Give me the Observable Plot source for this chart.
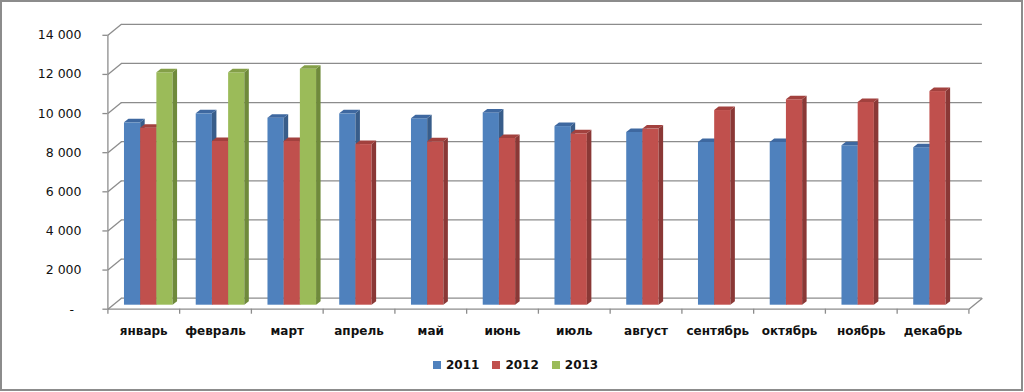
<!DOCTYPE html>
<html>
<head>
<meta charset="utf-8">
<script src="https://cdn.jsdelivr.net/npm/d3@7"></script>
<script src="https://cdn.jsdelivr.net/npm/@observablehq/plot@0.6"></script>
<style>
  body { margin: 0; background: #fff; }
  #wrap { position: relative; width: 1024px; height: 392px; overflow: hidden; font-family: "DejaVu Sans", sans-serif; background: #fff; }
  #chart { position: absolute; left: 0; top: 0; }
  #frame { position: absolute; left: 0; top: 0; width: 1023px; height: 391px; box-sizing: border-box; border: 2px solid #8c8c8c; pointer-events: none; }
  #legend { position: absolute; left: 433px; top: 358px; display: flex; align-items: center; font-weight: bold; font-size: 12px; color: #111; }
  #legend .item { display: flex; align-items: center; margin-right: 13px; }
  #legend .sw { width: 8px; height: 8px; margin-right: 5px; }
</style>
</head>
<body>
<div id="wrap">
  <div id="chart"></div>
  <div id="legend"></div>
  <div id="frame"></div>
</div>
<script>
// ---- data ----
const months = ["январь", "февраль", "март", "апрель", "май", "июнь", "июль", "август", "сентябрь", "октябрь", "ноябрь", "декабрь"];
const years = ["2011", "2012", "2013"];
const sales2011 = [9320, 9780, 9560, 9780, 9530, 9830, 9130, 8830, 8320, 8320, 8150, 8050];
const sales2012 = [9050, 8370, 8370, 8210, 8350, 8520, 8760, 9000, 9950, 10500, 10360, 10920];
const sales2013 = [11880, 11880, 12060];
const yTicks = [0, 2000, 4000, 6000, 8000, 10000, 12000, 14000];

// ---- styles ----
const frontColors = ["#4F81BD", "#C0504D", "#9BBB59"];
const sideColors = ["#385D8A", "#8A3836", "#6F8A3B"];
const topColors = ["#3E68A0", "#A2413E", "#849F48"];
const gridColor = "#8c8c8c";

// ---- layout (pixels) ----
const W = 1024, H = 345;
const mL = 112.4, mR = 50.6, mT = 30.8, mB = 40.3;
const uX = 12 / (W - mL - mR);        // x units per pixel
const uY = 14000 / (H - mT - mB);     // y units per pixel
const BW = 16.2 * uX;                 // bar width in x units
const OUT = (1 - 3 * BW) / 2;         // outer padding within a month
const D = 4.5 * uX, E = 3.5 * uY;     // bar depth offsets
const fdx = -5, fdy = 4;              // front plane offset (px)
const bdx = 8.5, bdy = -7;            // back wall offset (px)

const series = [sales2011, sales2012, sales2013];
const bars = [];
series.forEach((vals, j) => vals.forEach((v, i) => bars.push({ i, j, year: years[j], month: months[i], value: v })));
const bx = d => d.i + OUT + d.j * BW;

const fmt = d3.formatLocale({ decimal: ",", thousands: " ", grouping: [3], currency: ["", ""] }).format(",");

const marks = [];
// back wall gridlines
marks.push(Plot.ruleY(yTicks, { y: d => d, x1: 0, x2: 12, dx: bdx, dy: bdy, stroke: gridColor, strokeWidth: 1.3 }));
// side wall diagonals
marks.push(Plot.link(yTicks, {
  x1: () => fdx * uX, y1: d => d - fdy * uY,
  x2: () => bdx * uX, y2: d => d - bdy * uY,
  stroke: gridColor, strokeWidth: 1.3
}));
// floor right diagonal
marks.push(Plot.link([0], {
  x1: () => 12 + fdx * uX, y1: d => d - fdy * uY,
  x2: () => 12 + bdx * uX, y2: d => d - bdy * uY,
  stroke: gridColor, strokeWidth: 1.3
}));
// front value axis line and ticks
marks.push(Plot.ruleX([0], { y1: 0, y2: 14000, dx: fdx, dy: fdy, stroke: gridColor, strokeWidth: 1.3 }));
marks.push(Plot.ruleY(yTicks, { y: d => d, x1: -5 * uX, x2: 0, dx: fdx, dy: fdy, stroke: gridColor, strokeWidth: 1.3 }));
// front floor edge and category ticks
marks.push(Plot.ruleY([0], { x1: 0, x2: 12, dx: fdx, dy: fdy, stroke: gridColor, strokeWidth: 1.3 }));
marks.push(Plot.ruleX(d3.range(13), { x: d => d, y1: 0, y2: -5 * uY, dx: fdx, dy: fdy, stroke: gridColor, strokeWidth: 1.3 }));

// bars: front, side, top per series
for (let j = 0; j < 3; j++) {
  const b = bars.filter(d => d.j === j);
  marks.push(Plot.rect(b, { x1: d => bx(d), x2: d => bx(d) + BW, y1: () => 0, y2: "value", fill: frontColors[j] }));
  const side = b.flatMap(d => [
    { id: d.i, x: bx(d) + BW, y1: 0, y2: d.value },
    { id: d.i, x: bx(d) + BW + D, y1: E, y2: d.value + E }
  ]);
  marks.push(Plot.areaY(side, { x: "x", y1: "y1", y2: "y2", z: "id", fill: sideColors[j] }));
  const top = b.flatMap(d => [
    { id: d.i, y: d.value, x1: bx(d), x2: bx(d) + BW },
    { id: d.i, y: d.value + E, x1: bx(d) + D, x2: bx(d) + BW + D }
  ]);
  marks.push(Plot.areaX(top, { y: "y", x1: "x1", x2: "x2", z: "id", fill: topColors[j] }));
}

// value labels
marks.push(Plot.text(yTicks.filter(d => d > 0), { x: () => 0, y: d => d, text: d => fmt(d), textAnchor: "end", dx: -31.4, dy: fdy, fontSize: 12.5, fill: "#111" }));
marks.push(Plot.text([0], { x: () => 0, y: d => d, text: () => "-", textAnchor: "end", dx: -39, dy: fdy + 1, fontSize: 12.5, fill: "#111" }));
// month labels
marks.push(Plot.text(months, { x: (d, i) => i + 0.5, y: () => 0, text: d => d, dx: fdx, dy: 26, fontWeight: "bold", fontSize: 12, fill: "#111" }));

const chart = Plot.plot({
  width: W, height: H,
  marginLeft: mL, marginRight: mR, marginTop: mT, marginBottom: mB,
  x: { domain: [0, 12], axis: null },
  y: { domain: [0, 14000], axis: null },
  style: { fontFamily: "DejaVu Sans, sans-serif", background: "transparent", overflow: "visible" },
  marks
});
document.getElementById("chart").appendChild(chart);

// legend
const legend = document.getElementById("legend");
years.forEach((y, j) => {
  const it = document.createElement("div");
  it.className = "item";
  it.innerHTML = `<span class="sw" style="background:${frontColors[j]}"></span><span>${y}</span>`;
  legend.appendChild(it);
});
</script>
</body>
</html>
